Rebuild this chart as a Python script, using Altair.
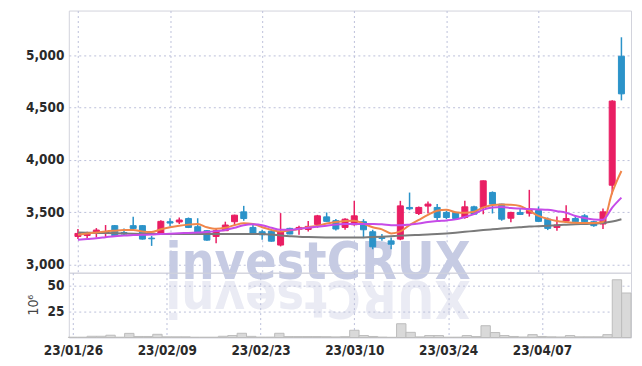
import altair as alt
import pandas as pd

# ---- data ----
idx = list(range(60))
opens = [3270, 3279, 3312, 3302, 3373, 3308, 3373, 3373, 3254, 3302,
         3411, 3408, 3441, 3363, 3325, 3270, 3325, 3411, 3505, 3356,
         3315, 3321, 3188, 3347, 3337, 3337, 3385, 3457, 3421, 3356,
         3382, 3411, 3315, 3260, 3228, 3245, 3547, 3489, 3560, 3547,
         3499, 3499, 3451, 3553, 3547, 3690, 3579, 3444, 3499, 3492,
         3518, 3435, 3356, 3417, 3441, 3467, 3411, 3389, 3759, 4990]
highs = [3341, 3315, 3350, 3379, 3379, 3347, 3457, 3379, 3276, 3424,
         3444, 3451, 3451, 3444, 3330, 3341, 3411, 3478, 3562, 3379,
         3334, 3330, 3493, 3352, 3373, 3417, 3476, 3499, 3437, 3444,
         3610, 3435, 3334, 3293, 3260, 3610, 3689, 3556, 3604, 3579,
         3515, 3505, 3610, 3562, 3803, 3700, 3582, 3505, 3531, 3715,
         3556, 3451, 3460, 3568, 3473, 3483, 3421, 3537, 4571, 5171]
lows = [3245, 3245, 3260, 3260, 3272, 3283, 3325, 3240, 3180, 3298,
        3366, 3389, 3350, 3306, 3230, 3206, 3322, 3372, 3420, 3297,
        3238, 3220, 3175, 3290, 3286, 3318, 3353, 3408, 3328, 3334,
        3373, 3254, 3148, 3228, 3148, 3235, 3521, 3476, 3489, 3420,
        3436, 3438, 3440, 3476, 3483, 3489, 3420, 3405, 3478, 3460,
        3408, 3331, 3325, 3405, 3408, 3405, 3363, 3341, 3673, 4569]
closes = [3299, 3293, 3331, 3315, 3276, 3293, 3347, 3245, 3248, 3414,
          3398, 3427, 3356, 3308, 3235, 3325, 3379, 3473, 3441, 3299,
          3286, 3225, 3315, 3293, 3356, 3366, 3467, 3414, 3341, 3435,
          3467, 3334, 3171, 3251, 3196, 3562, 3534, 3547, 3579, 3451,
          3451, 3441, 3553, 3483, 3801, 3579, 3435, 3499, 3480, 3518,
          3414, 3347, 3379, 3441, 3411, 3411, 3373, 3505, 4562, 4631]
volumes = [0.3, 0.3, 1.2, 1.2, 2.2, 0.3, 4.0, 1.0, 1.0, 3.1,
           0.7, 0.7, 0.7, 0.3, 0.3, 0.3, 1.2, 1.9, 4.1, 1.1,
           0.4, 0.4, 4.1, 0.9, 0.9, 0.9, 0.9, 0.8, 0.6, 0.8,
           7.0, 1.9, 1.0, 0.4, 0.2, 13.3, 5.0, 0.6, 1.9, 1.9,
           0.3, 0.3, 1.9, 0.9, 11.4, 4.8, 1.9, 1.0, 0.5, 2.8,
           1.0, 0.7, 0.5, 1.9, 0.7, 0.7, 0.7, 2.8, 55.8, 43.0]
ma_orange = [3286, 3298, 3308, 3318, 3325, 3331, 3331, 3318, 3313, 3338,
             3358, 3373, 3383, 3388, 3358, 3343, 3353, 3378, 3395, 3388,
             3358, 3333, 3318, 3328, 3341, 3358, 3373, 3393, 3408, 3418,
             3421, 3393, 3358, 3338, 3299, 3318, 3378, 3428, 3476, 3516,
             3526, 3501, 3496, 3506, 3546, 3571, 3574, 3573, 3561, 3516,
             3466, 3438, 3418, 3408, 3400, 3398, 3398, 3408, 3690, 3895]
ma_purple = [3238, 3246, 3253, 3263, 3273, 3278, 3283, 3286, 3288, 3293,
             3296, 3300, 3304, 3308, 3313, 3321, 3331, 3353, 3378, 3386,
             3378, 3353, 3333, 3333, 3343, 3353, 3363, 3373, 3383, 3388,
             3390, 3390, 3389, 3386, 3378, 3376, 3383, 3393, 3408, 3418,
             3423, 3433, 3456, 3483, 3526, 3547, 3551, 3541, 3536, 3531,
             3528, 3524, 3511, 3496, 3466, 3446, 3433, 3430, 3546, 3641]
ma_gray = [3308, 3306, 3304, 3302, 3300, 3298, 3296, 3294, 3293, 3293,
           3293, 3293, 3293, 3293, 3293, 3293, 3293, 3293, 3293, 3293,
           3293, 3288, 3280, 3273, 3267, 3264, 3262, 3261, 3260, 3260,
           3260, 3261, 3264, 3268, 3273, 3278, 3281, 3285, 3288, 3293,
           3299, 3306, 3314, 3323, 3331, 3338, 3345, 3352, 3358, 3364,
           3368, 3373, 3378, 3382, 3386, 3389, 3393, 3398, 3412, 3435]
tick_idx = [0, 10, 20, 30, 40, 50]
tick_labels = ['23/01/26', '23/02/09', '23/02/23', '23/03/10', '23/03/24', '23/04/07']
price_ticks = [3000, 3500, 4000, 4500, 5000]
vol_ticks = [25, 50]
watermark = 'investCRUX'

# ---- styling ----
FONT = 'DejaVu Sans Condensed'
PINK = '#e91e63'
BLUE = '#2b93c9'
GRID = '#bcc0da'

df = pd.DataFrame({'idx': idx, 'open': opens, 'high': highs, 'low': lows,
                   'close': closes, 'volume': volumes})
ma = pd.DataFrame({'idx': idx, 'gray': ma_gray, 'orange': ma_orange, 'purple': ma_purple})

xscale = alt.Scale(domain=[-0.45, 59.5], nice=False, zero=False)
pscale = alt.Scale(domain=[2924, 5426], nice=False, zero=False)
dirscale = alt.Scale(domain=['up', 'down'], range=[PINK, BLUE])

x_price_axis = alt.Axis(values=tick_idx, labels=False, ticks=False, domain=False,
                        grid=True, gridDash=[2, 3], gridColor=GRID, title=None)
y_price_axis = alt.Axis(values=price_ticks, format=',.0f', tickSize=0, labelPadding=5,
                        domain=False, grid=True, gridDash=[2, 3], gridColor=GRID,
                        title=None)

base = alt.Chart(df).transform_calculate(
    dir="datum.close >= datum.open ? 'up' : 'down'")

wm = alt.Chart(pd.DataFrame({'t': [watermark]})).mark_text(
    font=FONT, fontSize=52, fontWeight='bold', color='#c6cbe3',
    align='center', baseline='alphabetic').encode(
    text='t:N', x=alt.value(250), y=alt.value(269))
wm_ref = alt.Chart(pd.DataFrame({'t': [watermark[::-1]]})).mark_text(
    font=FONT, fontSize=52, fontWeight='bold', color='#eaebf4', angle=180,
    align='center', baseline='alphabetic').encode(
    text='t:N', x=alt.value(250), y=alt.value(271))

wicks = base.mark_rule(strokeWidth=1.5).encode(
    x=alt.X('idx:Q', scale=xscale, axis=x_price_axis),
    y=alt.Y('low:Q', scale=pscale, axis=y_price_axis),
    y2='high:Q',
    color=alt.Color('dir:N', scale=dirscale, legend=None))
bodies = base.mark_bar(size=6, strokeWidth=1).encode(
    x='idx:Q', y='open:Q', y2='close:Q',
    color=alt.Color('dir:N', scale=dirscale, legend=None),
    stroke=alt.Stroke('dir:N', scale=dirscale, legend=None))

line_base = alt.Chart(ma)
l_gray = line_base.mark_line(color='#7a7a7a', strokeWidth=2, interpolate='monotone').encode(
    x='idx:Q', y='gray:Q')
l_orange = line_base.mark_line(color='#f0864a', strokeWidth=2, interpolate='monotone').encode(
    x='idx:Q', y='orange:Q')
l_purple = line_base.mark_line(color='#c64be8', strokeWidth=2, interpolate='monotone').encode(
    x='idx:Q', y='purple:Q')

price = alt.layer(wm, wm_ref, wicks, bodies, l_gray, l_orange, l_purple).properties(
    width=564, height=263)

label_expr = ("[" + ",".join("'%s'" % s for s in tick_labels) + "][indexof(["
              + ",".join(str(v) for v in tick_idx) + "], datum.value)]")

vol = alt.Chart(df).transform_calculate(
    x0='datum.idx - 0.5', x1='datum.idx + 0.5').mark_bar(
    color='#d9d9d9', stroke='#bdbdbd', strokeWidth=1).encode(
    x=alt.X('x0:Q', scale=xscale,
            axis=alt.Axis(values=tick_idx, labelExpr=label_expr, ticks=False,
                          domain=False, grid=True, gridDash=[2, 3], gridColor=GRID,
                          labelPadding=6, title=None)),
    x2='x1:Q',
    y=alt.Y('volume:Q', scale=alt.Scale(domain=[0, 62.6], nice=False),
            axis=alt.Axis(values=vol_ticks, tickSize=0, labelPadding=5, domain=False,
                          grid=True, gridDash=[2, 3], gridColor=GRID,
                          title='10⁶', titleAngle=-90, titleX=-35, titleY=32,
                          titleAlign='center', titleBaseline='middle',
                          titleFont=FONT, titleFontSize=14, titleFontWeight='normal',
                          titleColor='#444')),
    y2=alt.datum(0)
).properties(width=564, height=65)

chart = alt.vconcat(price, vol, spacing=0).properties(
    autosize=alt.AutoSizeParams(type='pad'),
    bounds='flush',
    padding={'left': 17, 'top': 1, 'right': 2, 'bottom': 2}
).configure_view(stroke='#d2d3dc').configure_axis(
    labelFont=FONT, labelFontSize=13.5, labelFontWeight='bold', labelColor='#2a2a2a'
).configure_concat(spacing=0)

chart.save('out.html', embed_options={'renderer': 'svg', 'actions': False})
